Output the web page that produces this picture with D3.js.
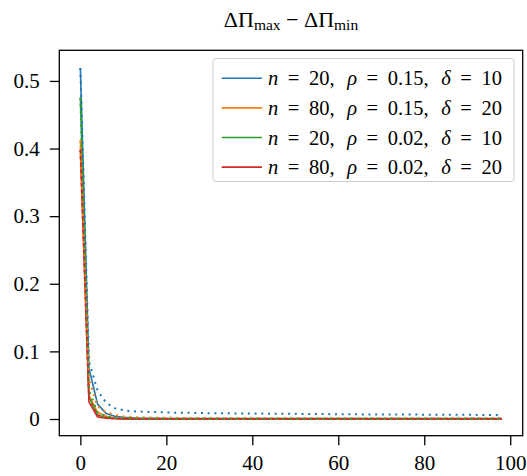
<!DOCTYPE html>
<html>
<head>
<meta charset="utf-8">
<script src="https://cdn.jsdelivr.net/npm/d3@7"></script>
<style>
  body { margin: 0; background: #fff; }
  text { font-family: "Liberation Serif", "DejaVu Serif", serif; fill: #000; }
</style>
</head>
<body>
<div id="chart"></div>
<script>
// x positions (iterations)
var steps = [0,2,4,6,8,10,12,14,16,18,20,22,24,26,28,30,32,34,36,38,40,42,44,46,48,
             50,52,54,56,58,60,62,64,66,68,70,72,74,76,78,80,82,84,86,88,90,92,94,96,98];

// solid lines
var blueSolid = [0.519,0.075,0.022,0.008,0.004,0.0025,0.0016,0.0012,0.001,0.0009,
                 0.0008,0.0008,0.0008,0.0008,0.0008,0.0008,0.0008,0.0008,0.0008,0.0008,
                 0.0007,0.0007,0.0007,0.0007,0.0007,0.0007,0.0007,0.0007,0.0007,0.0007,
                 0.0006,0.0006,0.0006,0.0006,0.0006,0.0006,0.0006,0.0006,0.0006,0.0006,
                 0.0005,0.0005,0.0005,0.0005,0.0005,0.0005,0.0005,0.0005,0.0005,0.0005];
var orangeSolid = [0.412,0.035,0.01,0.004,0.0015,0.0008,0.0005,0.0004,0.0003,0.0003,
                   0.0002,0.0002,0.0002,0.0002,0.0002,0.0002,0.0002,0.0002,0.0002,0.0002,
                   0.0002,0.0002,0.0002,0.0002,0.0002,0.0002,0.0002,0.0002,0.0002,0.0002,
                   0.0002,0.0002,0.0002,0.0002,0.0002,0.0002,0.0002,0.0002,0.0002,0.0002,
                   0.0002,0.0002,0.0002,0.0002,0.0002,0.0002,0.0002,0.0002,0.0002,0.0002];
var greenSolid = [0.475,0.032,0.006,0.002,0.001,0.0005,0.0003,0.0002,0.0002,0.0002,
                  0.0001,0.0001,0.0001,0.0001,0.0001,0.0001,0.0001,0.0001,0.0001,0.0001,
                  0.0001,0.0001,0.0001,0.0001,0.0001,0.0001,0.0001,0.0001,0.0001,0.0001,
                  0.0001,0.0001,0.0001,0.0001,0.0001,0.0001,0.0001,0.0001,0.0001,0.0001,
                  0.0001,0.0001,0.0001,0.0001,0.0001,0.0001,0.0001,0.0001,0.0001,0.0001];
var redSolid = [0.398,0.025,0.003,0.001,0.0004,0.0002,0.0001,0.0001,0.0001,0.0001,
                0.0001,0.0001,0.0001,0.0001,0.0001,0.0001,0.0001,0.0001,0.0001,0.0001,
                0.0001,0.0001,0.0001,0.0001,0.0001,0.0001,0.0001,0.0001,0.0001,0.0001,
                0.0001,0.0001,0.0001,0.0001,0.0001,0.0001,0.0001,0.0001,0.0001,0.0001,
                0.0001,0.0001,0.0001,0.0001,0.0001,0.0001,0.0001,0.0001,0.0001,0.0001];

// dotted lines
var blueDotted = [0.519,0.085,0.042,0.024,0.016,0.013,0.0115,0.011,0.0105,0.0101,
                  0.0097,0.0094,0.0092,0.009,0.0088,0.0086,0.0085,0.0084,0.0083,0.0082,
                  0.0081,0.008,0.0079,0.0078,0.0077,0.0076,0.0075,0.0074,0.0073,0.0072,
                  0.0071,0.007,0.0069,0.0068,0.0067,0.0067,0.0066,0.0066,0.0065,0.0065,
                  0.0064,0.0064,0.0063,0.0063,0.0062,0.0062,0.0061,0.0061,0.006,0.006];
var orangeDotted = [0.412,0.058,0.019,0.01,0.006,0.004,0.003,0.0025,0.0022,0.002,
                    0.0018,0.0017,0.0016,0.0015,0.0014,0.0013,0.0013,0.0012,0.0012,0.0011,
                    0.0011,0.001,0.001,0.001,0.001,0.001,0.001,0.001,0.001,0.001,
                    0.001,0.001,0.001,0.001,0.001,0.001,0.001,0.001,0.001,0.001,
                    0.001,0.001,0.001,0.001,0.001,0.001,0.001,0.001,0.001,0.001];
var greenDotted = [0.475,0.042,0.01,0.004,0.002,0.0012,0.0008,0.0006,0.0005,0.0004,
                   0.0003,0.0003,0.0003,0.0003,0.0003,0.0003,0.0003,0.0003,0.0003,0.0003,
                   0.0003,0.0003,0.0003,0.0003,0.0003,0.0003,0.0003,0.0003,0.0003,0.0003,
                   0.0003,0.0003,0.0003,0.0003,0.0003,0.0003,0.0003,0.0003,0.0003,0.0003,
                   0.0003,0.0003,0.0003,0.0003,0.0003,0.0003,0.0003,0.0003,0.0003,0.0003];
var redDotted = [0.398,0.03,0.006,0.002,0.001,0.0006,0.0004,0.0003,0.0003,0.0002,
                 0.0002,0.0002,0.0002,0.0002,0.0002,0.0002,0.0002,0.0002,0.0002,0.0002,
                 0.0002,0.0002,0.0002,0.0002,0.0002,0.0002,0.0002,0.0002,0.0002,0.0002,
                 0.0002,0.0002,0.0002,0.0002,0.0002,0.0002,0.0002,0.0002,0.0002,0.0002,
                 0.0002,0.0002,0.0002,0.0002,0.0002,0.0002,0.0002,0.0002,0.0002,0.0002];

var yTicks = [0, 0.1, 0.2, 0.3, 0.4, 0.5];
var xTicks = [0, 20, 40, 60, 80, 100];
var legendN = ["20", "80", "20", "80"];
var legendRho = ["0.15", "0.15", "0.02", "0.02"];
var legendDelta = ["10", "20", "10", "20"];
var colors = ["#1f77b4", "#ff7f0e", "#2ca02c", "#d62728"];

function draw() {
    var w = 527, h = 476;
    var left = 59.3, right = 522.7, top = 50.3, bottom = 435.7;

    var svg = d3.select("#chart")
        .append("svg")
        .attr("width", w)
        .attr("height", h);

    var x = d3.scaleLinear().domain([-4.9, 102.9]).range([left, right]);
    var y = d3.scaleLinear().domain([-0.0247, 0.5453]).range([bottom, top]);

    // title
    var title = svg.append("text")
        .attr("x", (left + right) / 2)
        .attr("y", 26.5)
        .attr("text-anchor", "middle")
        .style("font-size", "22px");
    title.append("tspan").text("ΔΠ");
    title.append("tspan").attr("dy", 3.5).style("font-size", "15.5px").text("max");
    title.append("tspan").attr("dy", -3.5).text("\u2005−\u2005ΔΠ");
    title.append("tspan").attr("dy", 3.5).style("font-size", "15.5px").text("min");

    // lines
    var line = d3.line()
        .x(function(d, i) { return x(steps[i]); })
        .y(function(d) { return y(d); });

    var solids = [blueSolid, orangeSolid, greenSolid, redSolid];
    var dotted = [blueDotted, orangeDotted, greenDotted, redDotted];

    var plot = svg.append("g");
    solids.forEach(function(s, i) {
        plot.append("path")
            .attr("d", line(s))
            .attr("fill", "none")
            .attr("stroke", colors[i])
            .attr("stroke-width", 1.6);
    });
    dotted.forEach(function(s, i) {
        plot.append("path")
            .attr("d", line(s))
            .attr("fill", "none")
            .attr("stroke", colors[i])
            .attr("stroke-width", 2)
            .attr("stroke-dasharray", "2,4.7");
    });

    // axes
    var yAxis = svg.append("g")
        .attr("transform", "translate(" + left + ",0)")
        .call(d3.axisLeft(y).tickValues(yTicks)
            .tickFormat(function(d) { return d === 0 ? "0" : d3.format(".1f")(d); })
            .tickSize(9.5).tickPadding(10));
    var xAxis = svg.append("g")
        .attr("transform", "translate(0," + bottom + ")")
        .call(d3.axisBottom(x).tickValues(xTicks).tickSize(9.5).tickPadding(9.5));

    [xAxis, yAxis].forEach(function(a) {
        a.attr("font-family", null);
        a.select(".domain").remove();
        a.selectAll("line").attr("stroke", "#000").attr("stroke-width", 1.3);
        a.selectAll("text")
            .style("font-family", "'Liberation Serif', serif")
            .style("font-size", "21px")
            .attr("fill", "#000");
    });

    // frame
    svg.append("rect")
        .attr("x", left).attr("y", top)
        .attr("width", right - left).attr("height", bottom - top)
        .attr("fill", "none")
        .attr("stroke", "#000")
        .attr("stroke-width", 1.3);

    // legend
    var lg = svg.append("g");
    lg.append("rect")
        .attr("x", 213).attr("y", 58.5)
        .attr("width", 301).attr("height", 123)
        .attr("rx", 3)
        .attr("fill", "#fff").attr("fill-opacity", 0.8)
        .attr("stroke", "#ccc").attr("stroke-width", 1);

    var textStart = 268, textWidth = 234;
    legendN.forEach(function(n, i) {
        var cy = 78.3 + i * 29.6;
        lg.append("line")
            .attr("x1", 221.7).attr("x2", 262)
            .attr("y1", cy).attr("y2", cy)
            .attr("stroke", colors[i]).attr("stroke-width", 1.6);
        var t = lg.append("text")
            .attr("y", cy + 7)
            .style("font-size", "20.5px");
        // pieces of the math label; gap type: 0 none, 1 around "=", 2 after comma
        var parts = [
            ["n", true, 1], ["=", false, 1], [n + ",", false, 2],
            ["ρ", true, 1], ["=", false, 1], [legendRho[i] + ",", false, 2],
            ["δ", true, 1], ["=", false, 1], [legendDelta[i], false, 0]
        ];
        var spans = parts.map(function(p) {
            return t.append("tspan")
                .style("font-style", p[1] ? "italic" : "normal")
                .text(p[0]);
        });
        var widths = spans.map(function(s) { return s.node().getComputedTextLength(); });
        var free = textWidth - d3.sum(widths);
        var eqGap = (free - 6) / 8, commaGap = eqGap + 3;
        var cx = textStart;
        spans.forEach(function(s, k) {
            s.attr("x", cx);
            cx += widths[k] + (parts[k][2] === 1 ? eqGap : parts[k][2] === 2 ? commaGap : 0);
        });
    });
}

window.onload = draw;
</script>
</body>
</html>
